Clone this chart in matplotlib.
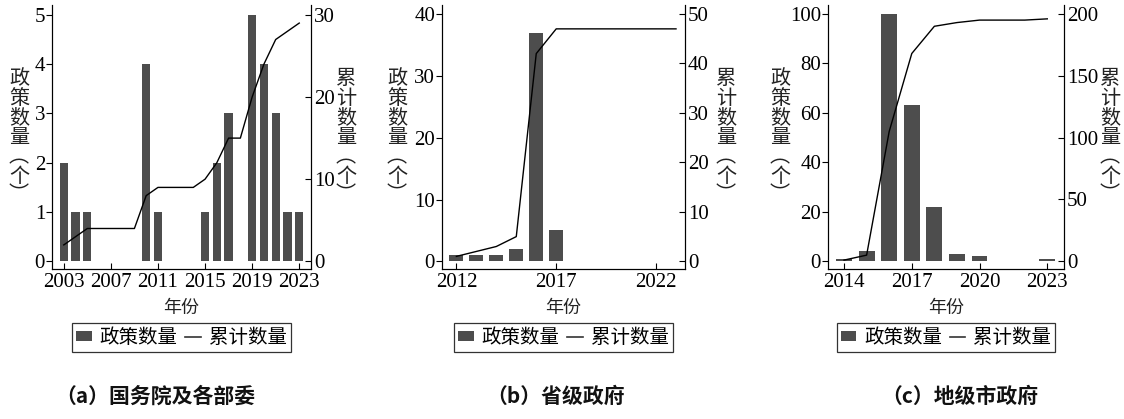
import matplotlib.pyplot as plt
from matplotlib.lines import Line2D
from matplotlib.patches import Patch

plt.rcParams['font.family'] = ['Liberation Serif', 'Noto Sans CJK SC']
CJK = ['Noto Sans CJK SC', 'DejaVu Sans']

# (a) 国务院及各部委
years_a = list(range(2003, 2024))
count_a = [2, 1, 1, 0, 0, 0, 0, 4, 1, 0, 0, 0, 1, 2, 3, 0, 5, 4, 3, 1, 1]
cum_a = [2, 3, 4, 4, 4, 4, 4, 8, 9, 9, 9, 9, 10, 12, 15, 15, 20, 24, 27, 28, 29]
ticks_a = [2003, 2007, 2011, 2015, 2019, 2023]

# (b) 省级政府
years_b = list(range(2012, 2024))
count_b = [1, 1, 1, 2, 37, 5, 0, 0, 0, 0, 0, 0]
cum_b = [1, 2, 3, 5, 42, 47, 47, 47, 47, 47, 47, 47]
ticks_b = [2012, 2017, 2022]

# (c) 地级市政府
years_c = list(range(2014, 2024))
count_c = [1, 4, 100, 63, 22, 3, 2, 0, 0, 1]
cum_c = [1, 5, 105, 168, 190, 193, 195, 195, 195, 196]
ticks_c = [2014, 2017, 2020, 2023]

captions = ['（a）国务院及各部委', '（b）省级政府', '（c）地级市政府']

W, H = 1124, 419
fig = plt.figure(figsize=(W / 100, H / 100), dpi=100)

def px(x0, x1, top, bottom):
    return [x0 / W, 1 - bottom / H, (x1 - x0) / W, (bottom - top) / H]

def vlabel(x, text, yc=137, step=19.5, size=14.5):
    # stack characters one under another
    n = len(text)
    for i, ch in enumerate(text):
        y = yc + (i - (n - 1) / 2) * step
        fig.text(x / W, 1 - y / H, ch, ha='center', va='center',
                 fontsize=size, family=CJK, color='#222222')

panels = [
    dict(box=(52, 311), years=years_a, count=count_a, cum=cum_a, ticks=ticks_a,
         xlim=(2002.0, 2024.0), ylim=(-0.155, 5.2), lt=[0, 1, 2, 3, 4, 5],
         rt=[0, 10, 20, 30], k=6, lx=19, rx=346, cap_x=155),
    dict(box=(442, 685), years=years_b, count=count_b, cum=cum_b, ticks=ticks_b,
         xlim=(2011.28, 2023.45), ylim=(-1.24, 41.46), lt=[0, 10, 20, 30, 40],
         rt=[0, 10, 20, 30, 40, 50], k=1.25, lx=397, rx=726, cap_x=556),
    dict(box=(828, 1064), years=years_c, count=count_c, cum=cum_c, ticks=ticks_c,
         xlim=(2013.29, 2023.74), ylim=(-3.1, 103.6), lt=[0, 20, 40, 60, 80, 100],
         rt=[0, 50, 100, 150, 200], k=2, lx=780, rx=1110, cap_x=960),
]

for p, cap in zip(panels, captions):
    ax = fig.add_axes(px(p['box'][0], p['box'][1], 5, 269))
    ax.bar(p['years'], p['count'], width=0.7, color='#4d4d4d', zorder=2)
    ax.set_xlim(*p['xlim'])
    ax.set_ylim(*p['ylim'])
    ax.set_xticks(p['ticks'])
    ax.set_yticks(p['lt'])
    ax.spines['top'].set_visible(False)
    ax.tick_params(axis='x', direction='in', length=4, labelsize=15, pad=3)
    ax.tick_params(axis='y', direction='out', length=4, labelsize=15, pad=1)
    ax.set_xlabel('年份', family=CJK, fontsize=13, labelpad=5, color='#222222')

    ax2 = ax.twinx()
    ax2.plot(p['years'], p['cum'], color='black', lw=1.0, zorder=3)
    ax2.set_ylim(p['ylim'][0] * p['k'], p['ylim'][1] * p['k'])
    ax2.set_yticks(p['rt'])
    ax2.spines['top'].set_visible(False)
    ax2.tick_params(axis='y', direction='in', length=4, labelsize=15, pad=2)

    vlabel(p['lx'], '政策数量︵个︶')
    vlabel(p['rx'], '累计数量︵个︶')

    handles = [Patch(facecolor='#4d4d4d'), Line2D([], [], color='#333333', lw=1.2)]
    leg = ax.legend(handles, ['政策数量', '累计数量'], ncol=2, loc='upper center',
                    bbox_to_anchor=(0.5, -0.205), prop={'family': CJK, 'size': 14},
                    frameon=True, fancybox=False, edgecolor='#333333', framealpha=1,
                    handlelength=0.8, handleheight=0.45, handletextpad=0.4,
                    columnspacing=0.4, borderpad=0.2, borderaxespad=0)
    leg.get_frame().set_linewidth(0.9)

    fig.text(p['cap_x'] / W, 1 - 396 / H, cap, ha='center', va='center',
             fontsize=15, family=CJK, weight='bold', color='#111111')

fig.savefig('out.png', dpi=100)
